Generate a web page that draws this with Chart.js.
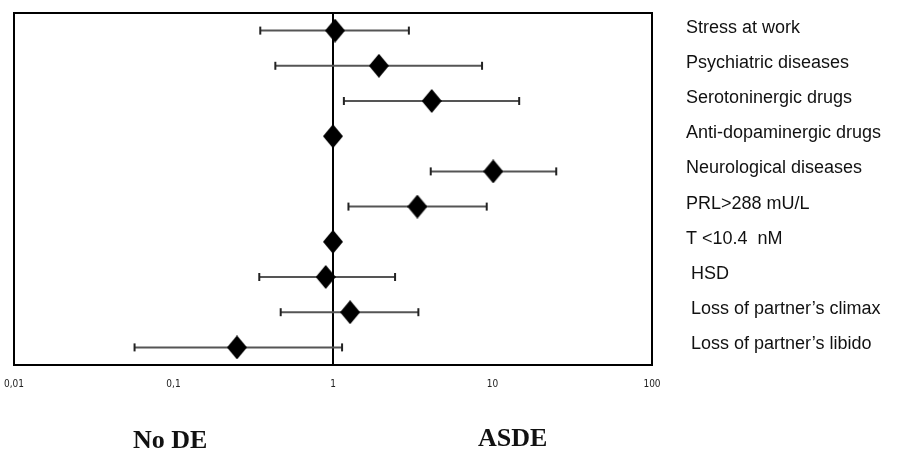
<!DOCTYPE html>
<html>
<head>
<meta charset="utf-8">
<script src="https://cdn.jsdelivr.net/npm/chart.js@4/dist/chart.umd.min.js"></script>
<style>
  html, body { margin: 0; padding: 0; background: #fff; }
  .wrap { position: relative; width: 906px; height: 455px; }
  .side { position: absolute; font-family: 'Liberation Serif', 'Times New Roman', serif; font-weight: bold; font-size: 26px; line-height: 26px; color: #111; white-space: nowrap; }
</style>
</head>
<body>
<div class="wrap">
  <canvas id="chart" width="906" height="455"></canvas>
  <div class="side" style="left:133px; top:427px;">No DE</div>
  <div class="side" style="left:478px; top:425px;">ASDE</div>
</div>
<script>
// rows, top to bottom
let factors = [
  "Stress at work",
  "Psychiatric diseases",
  "Serotoninergic drugs",
  "Anti-dopaminergic drugs",
  "Neurological diseases",
  "PRL>288 mU/L",
  "T <10.4  nM",
  " HSD",
  " Loss of partner\u2019s climax",
  " Loss of partner\u2019s libido"
];
let oddsRatio = [1.03, 1.94, 4.16, 1.0, 10.1, 3.38, 1.0, 0.90, 1.28, 0.25];
let ciLow =  [0.35, 0.435, 1.17, null, 4.1, 1.25, null, 0.345, 0.47, 0.057];
let ciHigh = [2.99, 8.6, 14.7, null, 25.1, 9.2, null, 2.45, 3.43, 1.14];
let xTicks = [0.01, 0.1, 1, 10, 100];

// diamond marker, a bit taller than wide
let diamond = document.createElement('canvas');
diamond.width = 20;
diamond.height = 24;
let dctx = diamond.getContext('2d');
dctx.fillStyle = '#000';
dctx.beginPath();
dctx.moveTo(10, 0);
dctx.lineTo(20, 12);
dctx.lineTo(10, 24);
dctx.lineTo(0, 12);
dctx.closePath();
dctx.fill();

let datasets = [{
  type: 'scatter',
  data: oddsRatio.map((v, i) => ({ x: v, y: i })),
  pointStyle: diamond,
  order: 0
}];

factors.forEach((f, i) => {
  if (ciLow[i] == null) return;
  datasets.push({
    type: 'line',
    data: [{ x: ciLow[i], y: i }, { x: ciHigh[i], y: i }],
    borderColor: '#555',
    borderWidth: 2,
    pointStyle: 'line',
    rotation: 90,
    pointRadius: 4,
    pointBorderWidth: 2,
    pointBorderColor: '#222',
    order: 1
  });
});

let frame = {
  id: 'frame',
  afterDraw(chart) {
    let a = chart.chartArea;
    let ctx = chart.ctx;
    ctx.save();
    ctx.strokeStyle = '#000';
    ctx.lineWidth = 2;
    ctx.strokeRect(a.left, a.top, a.right - a.left, a.bottom - a.top);
    ctx.restore();
  }
};

new Chart(document.getElementById('chart'), {
  type: 'scatter',
  data: { datasets: datasets },
  plugins: [frame],
  options: {
    responsive: false,
    animation: false,
    layout: { padding: { top: 13, left: 14, right: 0, bottom: 0 } },
    plugins: { legend: { display: false }, tooltip: { enabled: false } },
    scales: {
      x: {
        type: 'logarithmic',
        min: 0.01,
        max: 100,
        afterBuildTicks: (scale) => { scale.ticks = xTicks.map(v => ({ value: v })); },
        afterFit: (scale) => {
          scale.height = 90;
          scale.paddingLeft = 0;
          scale.paddingRight = 0;
        },
        border: { display: false },
        grid: {
          drawTicks: false,
          lineWidth: 2,
          color: (c) => (c.tick && c.tick.value === 1) ? '#000' : 'rgba(0,0,0,0)'
        },
        ticks: {
          padding: 13,
          maxRotation: 0,
          color: '#222',
          font: { family: "'Liberation Sans Narrow', 'DejaVu Sans Condensed', sans-serif", size: 10 },
          callback: (v) => String(v).replace('.', ',')
        }
      },
      y: {
        type: 'linear',
        position: 'right',
        min: -0.5,
        max: 9.5,
        reverse: true,
        afterBuildTicks: (scale) => { scale.ticks = factors.map((_, i) => ({ value: i })); },
        afterFit: (scale) => {
          scale.width = 254;
          scale.paddingTop = 0;
          scale.paddingBottom = 0;
        },
        border: { display: false },
        grid: { display: false, drawTicks: false },
        ticks: {
          padding: 34,
          crossAlign: 'near',
          labelOffset: -3,
          color: '#111',
          font: { family: "'Liberation Sans', Arial, sans-serif", size: 18 },
          callback: (v) => factors[v]
        }
      }
    }
  }
});
</script>
</body>
</html>
